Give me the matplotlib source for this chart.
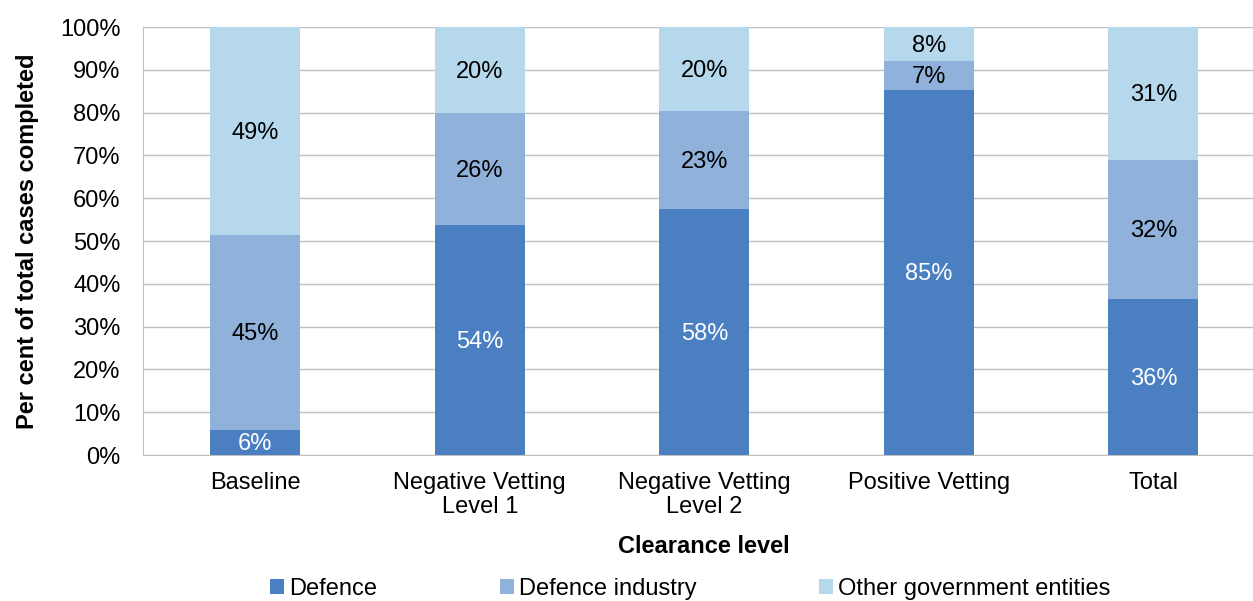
import matplotlib
matplotlib.use('Agg')
import matplotlib.pyplot as plt
import numpy as np

categories = ['Baseline', 'Negative Vetting\nLevel 1', 'Negative Vetting\nLevel 2',
              'Positive Vetting', 'Total']
defence = [5.9, 53.7, 57.5, 85.3, 36.4]
defence_industry = [45.4, 26.2, 22.9, 6.8, 32.5]
other_gov = [48.7, 20.1, 19.6, 7.9, 31.1]
series_names = ['Defence', 'Defence industry', 'Other government entities']
colors = ['#4A7FC1', '#8FB1DA', '#B5D8EC']
label_colors = ['white', 'black', 'black']

plt.rcParams['font.family'] = ['Liberation Sans', 'DejaVu Sans']
fs = 17

fig = plt.figure(figsize=(12.53, 6.01), dpi=100)
ax = fig.add_axes([0.1141, 0.2429, 0.896, 0.712])

x = np.arange(len(categories))
bottom = np.zeros(len(categories))
handles = []
for vals, name, col, lc in zip([defence, defence_industry, other_gov],
                               series_names, colors, label_colors):
    vals = np.array(vals)
    b = ax.bar(x, vals, 0.4, bottom=bottom, color=col, label=name, zorder=3)
    handles.append(b)
    for xi, v, bt in zip(x, vals, bottom):
        ax.text(xi, bt + v / 2 - 0.4, '%d%%' % round(v), ha='center', va='center',
                fontsize=fs, color=lc, zorder=4)
    bottom += vals

ax.set_xlim(-0.5, 4.5)
ax.set_ylim(0, 100)
ax.set_yticks(range(0, 101, 10))
ax.set_yticklabels(['%d%%' % t for t in range(0, 101, 10)])
ax.set_xticks(x)
ax.set_xticklabels(categories, linespacing=1.15)
ax.tick_params(axis='y', length=0, pad=16, labelsize=fs)
ax.tick_params(axis='x', length=0, pad=12, labelsize=fs)
ax.grid(axis='y', color='#BFBFBF', linewidth=1, zorder=0)
for s in ['top', 'right']:
    ax.spines[s].set_visible(False)
for s in ['left', 'bottom']:
    ax.spines[s].set_color('#BFBFBF')
ax.set_ylabel('Per cent of total cases completed', fontsize=fs,
              fontweight='bold', labelpad=15)
ax.set_xlabel('Clearance level', fontsize=fs, fontweight='bold', labelpad=12)

fig.legend(handles=handles, labels=series_names, loc='center',
           bbox_to_anchor=(0.551, 0.02), ncol=3, frameon=False,
           fontsize=fs, handlelength=0.6, handleheight=0.6,
           handletextpad=0.2, columnspacing=5.2)

plt.savefig('out.png', dpi=100)
plt.close(fig)
